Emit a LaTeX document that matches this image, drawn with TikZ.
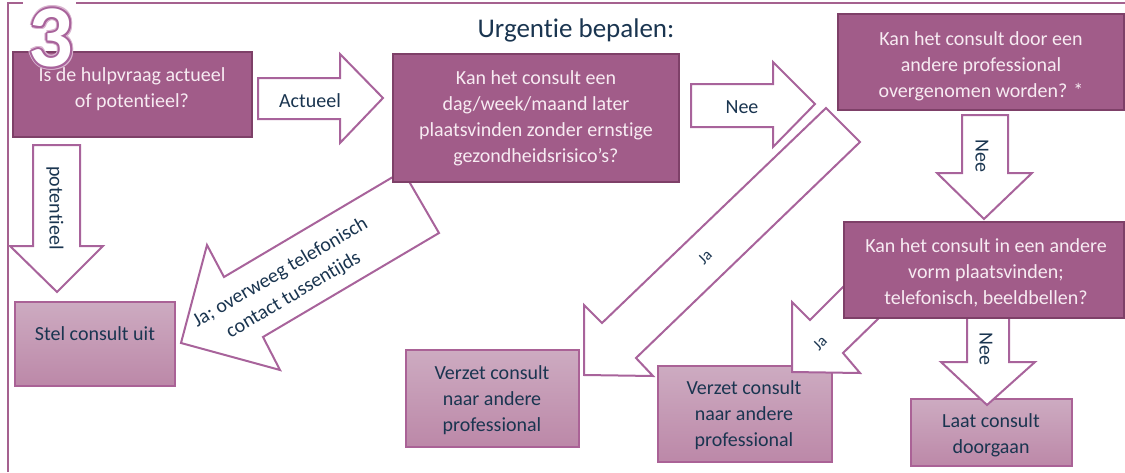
\documentclass[tikz,border=0pt]{standalone}
\usepackage{fontspec}
\setmainfont{Carlito}[RawFeature={-liga;-clig;-calt;-dlig}]
\definecolor{dbox}{HTML}{A15C89}
\definecolor{dboxline}{HTML}{7E4068}
\definecolor{dtext}{HTML}{F7EBF2}
\definecolor{ltop}{HTML}{CDABC1}
\definecolor{lbot}{HTML}{BC88A8}
\definecolor{lline}{HTML}{AA6296}
\definecolor{navy}{HTML}{1A3550}
\definecolor{arrline}{HTML}{A8639B}
\definecolor{framecol}{HTML}{A5618F}
\definecolor{glowcol}{HTML}{D9B3CF}
\tikzset{
  darkbox/.style={draw=dboxline, fill=dbox, line width=2pt, inner sep=0pt, outer sep=0pt},
  lightbox/.style={draw=lline, top color=ltop, bottom color=lbot, line width=1.6pt, inner sep=0pt, outer sep=0pt},
  blockarrow/.style={draw=arrline, fill=white, line width=2pt, line join=miter},
  wtext/.style={text=dtext, font=\fontsize{20}{26}\selectfont, align=center, inner sep=0pt},
  ntext/.style={text=navy, font=\fontsize{20}{26}\selectfont, align=center, inner sep=0pt},
  smalltext/.style={text=navy, font=\fontsize{16}{20}\selectfont, inner sep=0pt},
  bignum/.style={font=\fontsize{88}{88}\selectfont\bfseries, inner sep=0pt}
}
\begin{document}
\begin{tikzpicture}[x=1pt,y=-1pt]
\useasboundingbox (0,0) rectangle (1125,472);
% frame
\draw[framecol, line width=2pt] (8,472) -- (8,3) -- (1125,3);
\fill[white] (23,0) rectangle (76,50);
% block arrows (behind boxes)
\draw[blockarrow] (33,145) -- (80,145) -- (80,246) -- (103,246) -- (57,292) -- (10,246) -- (33,246) -- cycle;
\draw[blockarrow] (258,78) -- (340,78) -- (340,54) -- (383,98) -- (340,143) -- (340,119) -- (258,119) -- cycle;
\draw[blockarrow] (691,84) -- (773,84) -- (773,62) -- (815,104) -- (773,147) -- (773,127) -- (691,127) -- cycle;
\draw[blockarrow] (181,343) -- (207,245) -- (224,277) -- (403,171) -- (439,233) -- (263,337) -- (280,370) -- cycle;
\draw[blockarrow] (584,375) -- (584,305) -- (602,323) -- (826,108) -- (860,142) -- (636,358) -- (653,376) -- cycle;
\draw[blockarrow] (962,115) -- (1008,115) -- (1008,173) -- (1032,173) -- (984,219) -- (937,173) -- (962,173) -- cycle;
% boxes
\node[darkbox, minimum width=239pt, minimum height=85pt] (q1) at (132.5,94.5) {};
\node[darkbox, minimum width=286pt, minimum height=128pt] (q2) at (536,118) {};
\node[darkbox, minimum width=286pt, minimum height=96pt] (q3) at (981,62) {};
\node[lightbox, minimum width=160pt, minimum height=84pt] (stel) at (95,344) {};
\node[lightbox, minimum width=173pt, minimum height=97pt] (v1) at (492.5,398.5) {};
\node[lightbox, minimum width=174pt, minimum height=96pt] (v2) at (745,414) {};
\node[lightbox, minimum width=161pt, minimum height=67pt] (laat) at (991.5,432.5) {};
% arrows over lower boxes
\draw[blockarrow] (792,372) -- (792,302) -- (810,320) -- (846.5,283.5) -- (880,317) -- (843,353) -- (860,373) -- cycle;
\draw[blockarrow] (967,312) -- (1009,312) -- (1009,362) -- (1035,362) -- (987,405) -- (941,362) -- (967,362) -- cycle;
\node[darkbox, minimum width=280pt, minimum height=96pt] (q4) at (984,270) {};
% title
\node[text=navy, font=\fontsize{27}{30}\selectfont, inner sep=0pt] (title) at (576,30) {Urgentie bepalen:};
% box texts
\node[wtext] (q1t) at (132,89) {Is de hulpvraag actueel\\of potentieel?};
\node[wtext] (q2t) at (536,118) {Kan het consult een\\dag/week/maand later\\plaatsvinden zonder ernstige\\gezondheidsrisico’s?};
\node[wtext] (q3t) at (981,66) {Kan het consult door een\\andere professional\\overgenomen worden? *};
\node[wtext] (q4t) at (986,273) {Kan het consult in een andere\\vorm plaatsvinden;\\telefonisch, beeldbellen?};
\node[ntext] (stelt) at (95,334) {Stel consult uit};
\node[ntext] (v1t) at (492,400) {Verzet consult\\naar andere\\professional};
\node[ntext] (v2t) at (744,415) {Verzet consult\\naar andere\\professional};
\node[ntext] (laatt) at (991,435) {Laat consult\\doorgaan};
% arrow labels
\node[ntext] (lact) at (310,101) {Actueel};
\node[ntext] (lnee1) at (742,107) {Nee};
\node[ntext, rotate=-90] (lnee2) at (982,156) {Nee};
\node[ntext, rotate=-90] (lnee3) at (986,349) {Nee};
\node[ntext, rotate=-90] (lpot) at (55,208) {potentieel};
\node[ntext, rotate=30.5] (lja1) at (287,284) {Ja; overweeg telefonisch\\contact tussentijds};
\node[smalltext, rotate=45] (lja2) at (705,257) {Ja};
\node[smalltext, rotate=45] (lja3) at (820,343) {Ja};
% the number 3
\foreach \a in {0,30,...,330} {
  \node[bignum, text=glowcol, xshift={3*cos(\a)*1pt}, yshift={3*sin(\a)*1pt}] (glow\a) at (51,38) {3};
}
\foreach \a in {0,30,...,330} {
  \node[bignum, text=arrline, xshift={1.7*cos(\a)*1pt}, yshift={1.7*sin(\a)*1pt}] (edge\a) at (51,38) {3};
}
\node[bignum, text=white] (three) at (51,38) {3};
\end{tikzpicture}
\end{document}
